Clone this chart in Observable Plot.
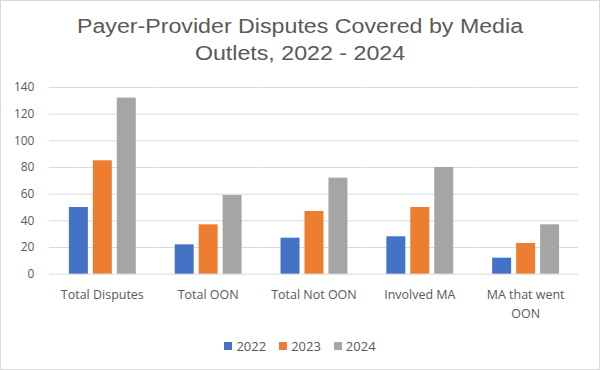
<!DOCTYPE html>
<html>
<head>
<meta charset="utf-8">
<script src="https://cdn.jsdelivr.net/npm/d3@7"></script>
<script src="https://cdn.jsdelivr.net/npm/@observablehq/plot@0.6"></script>
<style>
  html, body { margin: 0; padding: 0; background: #fff; }
  #wrap { position: relative; width: 600px; height: 370px; box-sizing: border-box; border: 1px solid #d9d9d9; background: #fff; overflow: hidden; }
  #title { position: absolute; left: 0; top: 12px; width: 598px; text-align: center; font-family: "Liberation Sans", Arial, sans-serif; font-size: 20px; line-height: 27px; color: #595959; transform: scaleX(1.16); transform-origin: 299px 0; }
  #chart { position: absolute; left: -1px; top: 69px; }
  #legend { position: absolute; left: 0; top: 336px; width: 598px; display: flex; justify-content: center; gap: 13px; font-family: "Open Sans", sans-serif; font-size: 13px; color: #595959; }
  .item { display: flex; align-items: center; gap: 4px; }
  .sw { width: 8px; height: 8px; display: inline-block; }
</style>
</head>
<body>
<div id="wrap">
  <div id="title">Payer-Provider Disputes Covered by Media<br>Outlets, 2022 - 2024</div>
  <div id="chart"></div>
  <div id="legend"></div>
</div>
<script>
const categories = ["Total Disputes", "Total OON", "Total Not OON", "Involved MA", "MA that went OON"];
const categoryLabels = ["Total Disputes", "Total OON", "Total Not OON", "Involved MA", "MA that went\nOON"];
const years = ["2022", "2023", "2024"];
const v2022 = [50, 22, 27, 28, 12];
const v2023 = [85, 37, 47, 50, 23];
const v2024 = [132, 59, 72, 80, 37];
const yTicks = [0, 20, 40, 60, 80, 100, 120, 140];
const colors = ["#4472C4", "#ED7D31", "#A5A5A5"];

const series = [v2022, v2023, v2024];
const data = [];
categories.forEach((c, i) => years.forEach((y, j) => data.push({category: c, year: y, value: series[j][i]})));

const labelOf = new Map(categories.map((c, i) => [c, categoryLabels[i]]));

const chart = Plot.plot({
  width: 600,
  height: 262,
  marginTop: 17,
  marginBottom: 58,
  marginLeft: 48,
  marginRight: 20,
  style: {color: "#595959", fontFamily: "'Open Sans', sans-serif", background: "transparent"},
  fx: {domain: categories, paddingInner: 0, paddingOuter: 0, label: null},
  x: {domain: years, paddingInner: 0.22, paddingOuter: 0.8, axis: null},
  y: {domain: [0, 140], label: null},
  color: {domain: years, range: colors},
  marks: [
    Plot.gridY(yTicks, {stroke: "#d9d9d9", strokeOpacity: 1, strokeWidth: 1}),
    Plot.axisY(yTicks, {tickSize: 0, tickPadding: 15, fontSize: 12, label: null}),
    Plot.axisFx({anchor: "bottom", tickSize: 0, tickPadding: 12, fontSize: 12.5, label: null, lineHeight: 1.5, tickFormat: d => labelOf.get(d)}),
    Plot.barY(data, {fx: "category", x: "year", y: "value", fill: "year"})
  ]
});
document.getElementById("chart").appendChild(chart);

const legend = document.getElementById("legend");
years.forEach((y, i) => {
  const it = document.createElement("div");
  it.className = "item";
  const sw = document.createElement("span");
  sw.className = "sw";
  sw.style.background = colors[i];
  const t = document.createElement("span");
  t.textContent = y;
  it.appendChild(sw); it.appendChild(t);
  legend.appendChild(it);
});
</script>
</body>
</html>
